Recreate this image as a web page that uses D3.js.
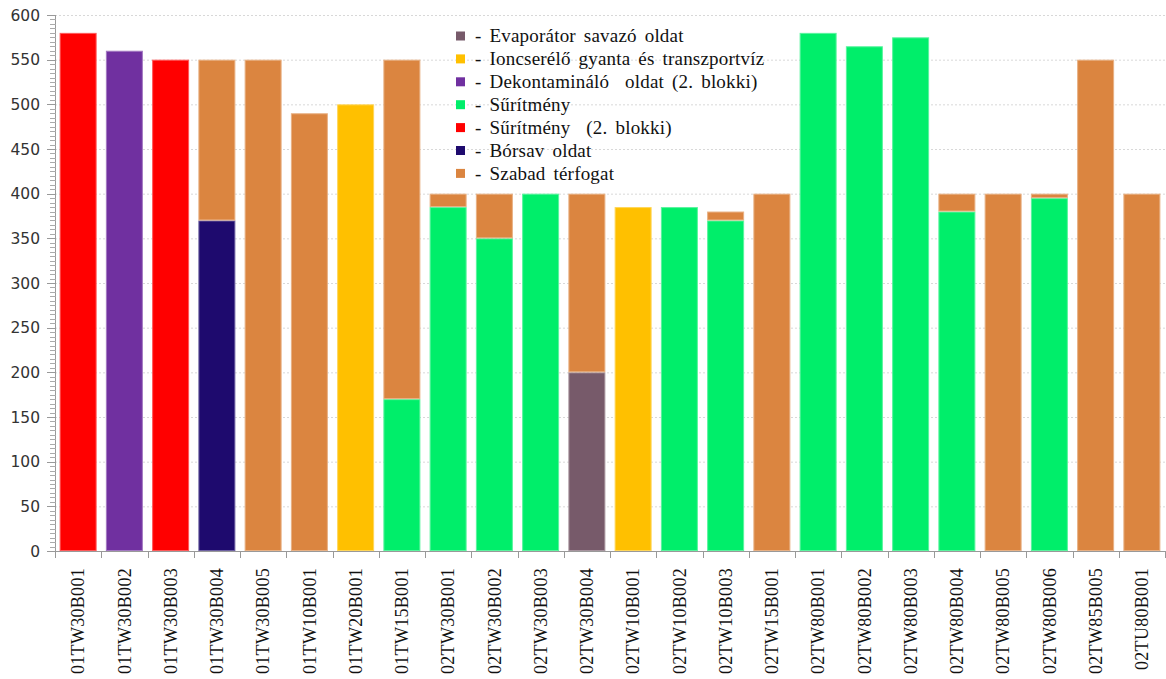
<!DOCTYPE html>
<head>
  <meta charset="utf-8">
  <script src="https://d3js.org/d3.v7.min.js"></script>
  <style>
body { margin:0; background:#fff; }
.ytick text { font-family: "DejaVu Sans", sans-serif; font-size: 15.5px; fill: #333; }
.xlab { font-family: "Liberation Serif", serif; font-size: 18px; letter-spacing: 0.3px; fill: #111; }
.legend text { font-family: "Liberation Serif", serif; font-size: 19px; word-spacing: 3px; letter-spacing: 0.2px; fill: #111; white-space: pre; }
  </style>
</head>
<body>
<script>
const categories = ['01TW30B001','01TW30B002','01TW30B003','01TW30B004','01TW30B005','01TW10B001',
  '01TW20B001','01TW15B001','02TW30B001','02TW30B002','02TW30B003','02TW30B004','02TW10B001',
  '02TW10B002','02TW10B003','02TW15B001','02TW80B001','02TW80B002','02TW80B003','02TW80B004',
  '02TW80B005','02TW80B006','02TW85B005','02TU80B001']

const seriesNames = ['- Evaporátor savazó oldat', '- Ioncserélő gyanta és transzportvíz',
  '- Dekontamináló  oldat (2. blokki)', '- Sűrítmény', '- Sűrítmény  (2. blokki)',
  '- Bórsav oldat', '- Szabad térfogat']
const seriesColors = ['#775a6a', '#ffc000', '#7030a0', '#00ee6a', '#ff0000', '#1e0a6e', '#db8540']

// values per series, one per category
const evaporator = [0,0,0,0,0,0, 0,0,0,0,0,200, 0,0,0,0,0,0, 0,0,0,0,0,0]
const ioncserelo = [0,0,0,0,0,0, 500,0,0,0,0,0, 385,0,0,0,0,0, 0,0,0,0,0,0]
const dekontam   = [0,560,0,0,0,0, 0,0,0,0,0,0, 0,0,0,0,0,0, 0,0,0,0,0,0]
const suritmeny  = [0,0,0,0,0,0, 0,170,385,350,400,0, 0,385,370,0,580,565, 575,380,0,395,0,0]
const suritmeny2 = [580,0,550,0,0,0, 0,0,0,0,0,0, 0,0,0,0,0,0, 0,0,0,0,0,0]
const borsav     = [0,0,0,370,0,0, 0,0,0,0,0,0, 0,0,0,0,0,0, 0,0,0,0,0,0]
const szabad     = [0,0,0,180,550,490, 0,380,15,50,0,200, 0,0,10,400,0,0, 0,20,400,5,550,400]

const yTicks = [0,50,100,150,200,250,300,350,400,450,500,550,600]

const allSeries = [evaporator, ioncserelo, dekontam, suritmeny, suritmeny2, borsav, szabad]
const table = categories.map((c, i) => {
  const row = { cat: c }
  allSeries.forEach((s, k) => { row['s' + k] = s[i] })
  return row
})
const keys = allSeries.map((s, k) => 's' + k)

const W = 1166, H = 679
const svg = d3.select('body').append('svg').attr('width', W).attr('height', H)

const x = d3.scaleBand().domain(categories).range([55, 1165]).paddingInner(0.2).paddingOuter(0.1)
const y = d3.scaleLinear().domain([0, 600]).range([551, 15])

// grid
svg.append('g').selectAll('line').data(yTicks.filter(d => d > 0)).join('line')
  .attr('x1', 55).attr('x2', 1165)
  .attr('y1', d => y(d) + 0.5).attr('y2', d => y(d) + 0.5)
  .attr('stroke', '#d8d8d8').attr('stroke-dasharray', '2,2')

// bars
const stack = d3.stack().keys(keys)(table)
svg.append('g').selectAll('g').data(stack).join('g')
  .attr('fill', (d, k) => seriesColors[k])
  .attr('stroke', (d, k) => d3.interpolateRgb(seriesColors[k], '#fff')(0.35))
  .selectAll('rect').data(d => d.filter(p => p[1] - p[0] > 0)).join('rect')
  .attr('x', d => x(d.data.cat) + 0.5)
  .attr('width', x.bandwidth() - 1)
  .attr('y', d => y(d[1]) + 0.5)
  .attr('height', d => y(d[0]) - y(d[1]) - 1)

// y axis with minor ticks
const yAxis = svg.append('g')
yAxis.append('line').attr('x1', 55.5).attr('x2', 55.5).attr('y1', 15).attr('y2', 551).attr('stroke', '#999')
yAxis.selectAll('.minor').data(d3.range(0, 601, 5)).join('line')
  .attr('x1', 50).attr('x2', 56)
  .attr('y1', d => Math.round(y(d)) + 0.5).attr('y2', d => Math.round(y(d)) + 0.5)
  .attr('stroke', '#aaa')
const yt = yAxis.selectAll('.ytick').data(yTicks).join('g').attr('class', 'ytick')
yt.append('line').attr('x1', 47).attr('x2', 56)
  .attr('y1', d => Math.round(y(d)) + 0.5).attr('y2', d => Math.round(y(d)) + 0.5).attr('stroke', '#999')
yt.append('text').attr('x', 40).attr('y', d => y(d)).attr('dy', '0.36em')
  .attr('text-anchor', 'end').text(d => d)

// x axis
const xAxis = svg.append('g')
xAxis.append('line').attr('x1', 55).attr('x2', 1165).attr('y1', 551.5).attr('y2', 551.5).attr('stroke', '#999')
xAxis.selectAll('.xt').data(d3.range(0, categories.length + 1)).join('line')
  .attr('x1', i => Math.round(55 + i * x.step()) + 0.5).attr('x2', i => Math.round(55 + i * x.step()) + 0.5)
  .attr('y1', 551).attr('y2', 558).attr('stroke', '#999')
xAxis.selectAll('text').data(categories).join('text')
  .attr('class', 'xlab')
  .attr('transform', d => `translate(${x(d) + x.bandwidth() / 2},568) rotate(-90)`)
  .attr('text-anchor', 'end').attr('dy', '0.35em')
  .text(d => d)

// legend
const lg = svg.append('g').attr('class', 'legend')
const items = lg.selectAll('g').data(seriesNames).join('g')
  .attr('transform', (d, i) => `translate(456,${36 + i * 22.9})`)
items.append('rect').attr('x', 0).attr('y', -4.5).attr('width', 9).attr('height', 9)
  .attr('fill', (d, i) => seriesColors[i])
items.append('text').attr('x', 19).attr('y', 0).attr('dy', '0.33em').text(d => d)
</script>
</body>
